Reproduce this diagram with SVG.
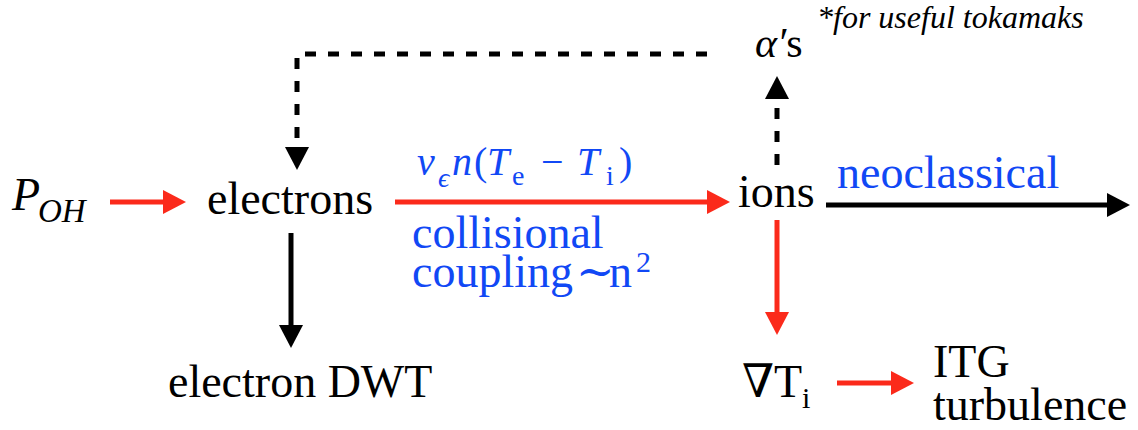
<svg xmlns="http://www.w3.org/2000/svg" width="1138" height="430" viewBox="0 0 1138 430">
<style>
svg{font-family:"Liberation Serif","DejaVu Serif",serif;font-size:46px}
text{fill:#000}
text.blue{fill:#1148f5}
.it{font-style:italic}
.red{stroke:#fb2a1b;stroke-width:5;fill:none}
.blk{stroke:#000;stroke-width:5;fill:none}
.dash{stroke:#000;stroke-width:5;fill:none;stroke-dasharray:11 12}
</style>
<defs>
<marker id="hr" markerUnits="userSpaceOnUse" markerWidth="24" markerHeight="24" refX="0" refY="12" orient="auto" viewBox="0 0 24 24"><path d="M0,0 L23,12 L0,24 z" fill="#fb2a1b"/></marker>
<marker id="hb" markerUnits="userSpaceOnUse" markerWidth="24" markerHeight="24" refX="0" refY="12" orient="auto" viewBox="0 0 24 24"><path d="M0,0 L23,12 L0,24 z" fill="#000"/></marker>
</defs>
<g id="connectors">
<line class="red" x1="110" y1="202" x2="163" y2="202" marker-end="url(#hr)"/>
<line class="red" x1="395" y1="202" x2="707" y2="202" marker-end="url(#hr)"/>
<line class="blk" x1="826" y1="205" x2="1107" y2="205" marker-end="url(#hb)"/>
<line class="red" x1="777" y1="220" x2="777" y2="312" marker-end="url(#hr)"/>
<line class="blk" x1="291" y1="233" x2="291" y2="325" marker-end="url(#hb)"/>
<line class="red" x1="837" y1="383" x2="891" y2="383" marker-end="url(#hr)"/>
<line class="dash" x1="777" y1="165" x2="777" y2="100"/>
<path d="M777,100 L777,99" class="blk" stroke-opacity="0" marker-end="url(#hb)"/>
<path class="dash" d="M707,54 H297 V147"/>
<path d="M297,146 L297,147" class="blk" stroke-opacity="0" marker-end="url(#hb)"/>
</g>
<g id="node-poh"><text x="12" y="210" class="it">P</text><text x="38" y="222" class="it" font-size="33">OH</text></g>
<g id="node-electrons"><text x="207" y="214">electrons</text></g>
<g id="node-ions"><text x="738" y="207">ions</text></g>
<g id="node-electron-dwt"><text x="168" y="397">electron DWT</text></g>
<g id="node-gradti"><text x="742" y="397">∇T</text><text x="802" y="408" font-size="30">i</text></g>
<g id="node-itg"><text x="933" y="377">ITG</text><text x="933" y="420">turbulence</text></g>
<g id="node-alphas"><text x="755" y="57" font-size="42"><tspan class="it">α′</tspan>s</text></g>
<g id="note"><text x="817" y="28" class="it" font-size="32">*for useful tokamaks</text></g>
<g id="label-coupling">
<text class="blue it" x="417" y="175" font-size="40">ν</text>
<text class="blue it" x="438" y="187" font-size="28">ϵ</text>
<text class="blue it" x="452" y="175" font-size="40">n</text>
<text class="blue" x="474" y="175" font-size="40">(</text>
<text class="blue it" x="487" y="175" font-size="40">T</text>
<text class="blue" x="512" y="185" font-size="28">e</text>
<text class="blue" x="541" y="175" font-size="40">−</text>
<text class="blue it" x="577" y="175" font-size="40">T</text>
<text class="blue" x="606" y="185" font-size="28">i</text>
<text class="blue" x="619" y="175" font-size="40">)</text>
<text class="blue" x="412" y="248">collisional</text>
<text class="blue" x="412" y="287">coupling<tspan x="576">∼</tspan><tspan x="609">n</tspan></text>
<text class="blue" x="636" y="272" font-size="30">2</text>
</g>
<g id="label-neoclassical"><text class="blue" x="837" y="188">neoclassical</text></g>
</svg>
